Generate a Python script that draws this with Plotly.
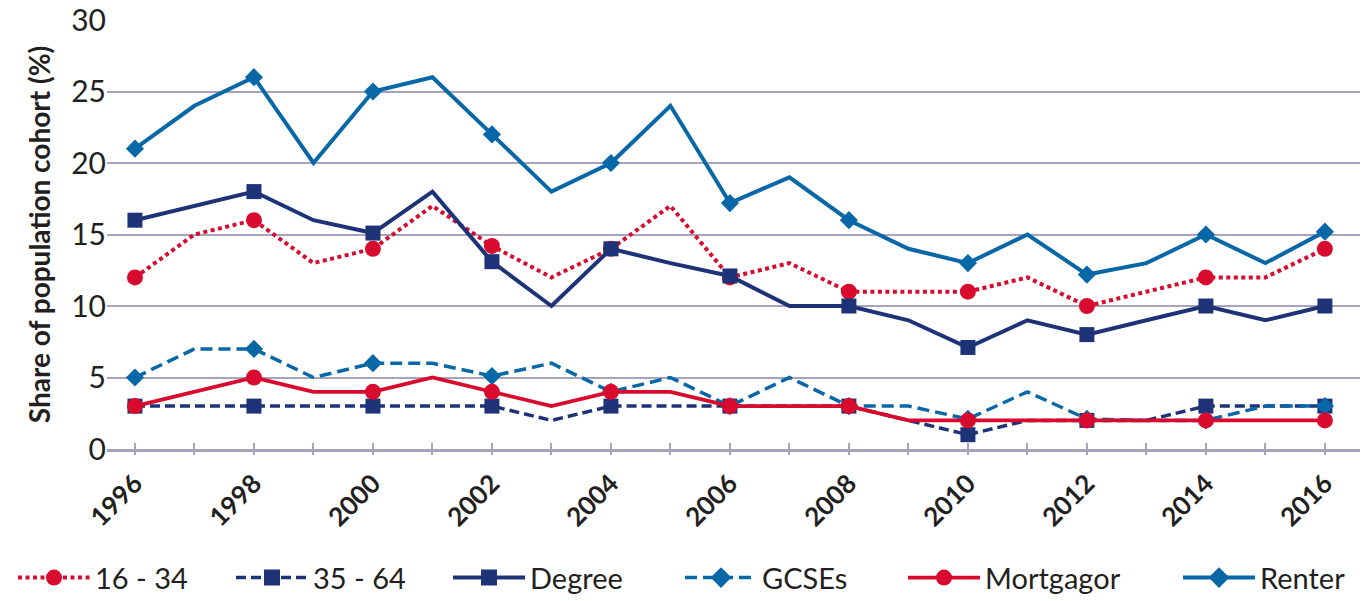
import plotly.graph_objects as go

# Survey years and each cohort's share (%)
years = list(range(1996, 2017))

age_16_34 = [12, 15, 16, 13, 14, 17, 14.2, 12, 14, 17, 12, 13, 11, 11, 11, 12, 10, 11, 12, 12, 14]
age_35_64 = [3, 3, 3, 3, 3, 3, 3, 2, 3, 3, 3, 3, 3, 2, 1, 2, 2, 2, 3, 3, 3]
degree = [16, 17, 18, 16, 15.1, 18, 13.1, 10, 14, 13, 12.1, 10, 10, 9, 7.1, 9, 8, 9, 10, 9, 10]
gcses = [5, 7, 7, 5, 6, 6, 5.1, 6, 4, 5, 3, 5, 3, 3, 2.1, 4, 2.1, 2, 2, 3, 3]
mortgagor = [3, 4, 5, 4, 4, 5, 4, 3, 4, 4, 3, 3, 3, 2, 2, 2, 2, 2, 2, 2, 2]
renter = [21, 24, 26, 20, 25, 26, 22, 18, 20, 24, 17.2, 19, 16, 14, 13, 15, 12.2, 13, 15, 13, 15.2]

series_names = ["16 - 34", "35 - 64", "Degree", "GCSEs", "Mortgagor", "Renter"]
series_values = [age_16_34, age_35_64, degree, gcses, mortgagor, renter]

RED = "#d80b2e"
NAVY = "#1e3278"
BLUE = "#0767a7"
TEXT = "#231f20"
GRID = "#a7a3bc"

styles = {
    "16 - 34": dict(color=RED, dash="4px,3.5px", width=4, symbol="circle", size=16),
    "35 - 64": dict(color=NAVY, dash="10px,5px", width=3.5, symbol="square", size=15),
    "Degree": dict(color=NAVY, dash="solid", width=4, symbol="square", size=15),
    "GCSEs": dict(color=BLUE, dash="12px,6px", width=3.5, symbol="diamond", size=14),
    "Mortgagor": dict(color=RED, dash="solid", width=3.8, symbol="circle", size=16),
    "Renter": dict(color=BLUE, dash="solid", width=4, symbol="diamond", size=14),
}

# left edge (px) of each legend entry along the bottom row
legend_left_px = [18, 236, 453, 685, 908, 1183]

fig = go.Figure()

for i, (name, vals) in enumerate(zip(series_names, series_values)):
    st = styles[name]
    leg_id = "legend" if i == 0 else f"legend{i + 1}"
    # full yearly line
    fig.add_trace(go.Scatter(
        x=years, y=vals, mode="lines", name=name, legendgroup=name, showlegend=False,
        line=dict(color=st["color"], dash=st["dash"], width=st["width"]),
        hoverinfo="x+y+name",
    ))
    # markers on even years
    ev_x = [x for x in years if x % 2 == 0]
    ev_y = [v for x, v in zip(years, vals) if x % 2 == 0]
    fig.add_trace(go.Scatter(
        x=ev_x, y=ev_y, mode="markers", name=name, legendgroup=name, showlegend=False,
        marker=dict(color=st["color"], symbol=st["symbol"], size=st["size"]),
        hoverinfo="x+y+name",
    ))
    # legend entry
    fig.add_trace(go.Scatter(
        x=[None], y=[None], mode="lines+markers", name=name, legendgroup=name,
        legend=leg_id,
        line=dict(color=st["color"], dash=st["dash"], width=st["width"]),
        marker=dict(color=st["color"], symbol=st["symbol"], size=16),
    ))

L_MARGIN, R_MARGIN = 107, 7
plot_w = 1367 - L_MARGIN - R_MARGIN

legend_layouts = {}
for i, left in enumerate(legend_left_px):
    key = "legend" if i == 0 else f"legend{i + 1}"
    legend_layouts[key] = dict(
        orientation="h", x=(left - 5 - L_MARGIN) / plot_w, xanchor="left",
        y=-0.30, yanchor="middle",
        font=dict(size=29, color=TEXT), itemwidth=72,
        bgcolor="rgba(0,0,0,0)",
    )

fig.update_layout(
    width=1367, height=601,
    margin=dict(l=L_MARGIN, r=R_MARGIN, t=20, b=152, autoexpand=False),
    paper_bgcolor="white", plot_bgcolor="white",
    font=dict(family="Lato, sans-serif", color=TEXT, size=26),
    showlegend=True,
    **legend_layouts,
    xaxis=dict(
        range=[1995.53, 2016.59], tickmode="array",
        tickvals=list(range(1996, 2017, 2)),
        ticktext=[str(y) for y in range(1996, 2017, 2)],
        tickangle=-45, tickfont=dict(size=26, weight="bold", color=TEXT),
        ticklabelstandoff=6, automargin=False,
        showgrid=False, zeroline=False,
        showline=True, linecolor=GRID, linewidth=3,
        ticks="inside", ticklen=6, tickwidth=2, tickcolor=GRID,
        minor=dict(dtick=1, ticks="inside", ticklen=6, tickwidth=2, tickcolor=GRID),
    ),
    # companion axis carrying the outer half of the year ticks
    xaxis2=dict(
        overlaying="x", matches="x", anchor="y", side="bottom", automargin=False,
        showticklabels=False, showgrid=False, zeroline=False, showline=False,
        tickmode="linear", tick0=1996, dtick=1,
        ticks="outside", ticklen=5, tickwidth=2, tickcolor=GRID,
    ),
    yaxis=dict(
        range=[0, 30], dtick=5, tick0=0, automargin=False,
        showgrid=True, gridcolor=GRID, gridwidth=2,
        zeroline=False, showline=False, ticks="",
        tickfont=dict(size=30, color=TEXT),
        title=dict(text="Share of population cohort (%)",
                   font=dict(size=28, weight="bold", color=TEXT), standoff=12),
    ),
)

# invisible trace so the companion axis is drawn
fig.add_trace(go.Scatter(x=[1996, 2016], y=[None, None], xaxis="x2", mode="lines",
                         showlegend=False, hoverinfo="skip"))

fig.write_html("out.html")
